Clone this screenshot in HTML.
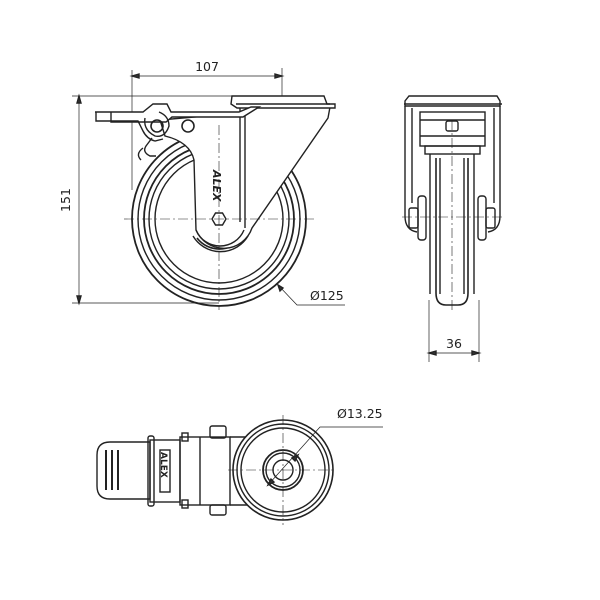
<!DOCTYPE html>
<html><head><meta charset="utf-8"><style>
html,body{margin:0;padding:0;background:#fff}
svg{display:block}
text{font-family:"DejaVu Sans","Liberation Sans",sans-serif;fill:#222}
</style></head><body>
<svg width="600" height="600" viewBox="0 0 600 600" xmlns="http://www.w3.org/2000/svg">
<g fill="none" stroke="#222" stroke-width="1.4">
<line x1="132" y1="70" x2="132" y2="190" stroke-width="0.7"/>
<line x1="282" y1="68" x2="282" y2="160" stroke-width="0.7"/>
<line x1="132" y1="76" x2="282" y2="76" stroke-width="0.7"/>
<path d="M132 76 l7 -2 v4z M282 76 l-7 -2 v4z" fill="#333"/>
<line x1="72" y1="96" x2="232" y2="96" stroke-width="0.7"/>
<line x1="72" y1="303" x2="219" y2="303" stroke-width="0.7"/>
<line x1="79" y1="96" x2="79" y2="303" stroke-width="0.7"/>
<path d="M79 96 l-2 7 h4z M79 303 l-2 -7 h4z" fill="#333"/>
<circle cx="219" cy="219" r="87" stroke-width="1.8"/>
<circle cx="219" cy="219" r="81"/>
<circle cx="219" cy="219" r="75" stroke-width="1.8"/>
<circle cx="219" cy="219" r="70"/>
<circle cx="219" cy="219" r="64"/>
<path d="M197 238 A28 28 0 0 0 245 232" stroke-width="1.6"/>
<path d="M193 236 A32 32 0 0 0 248 236"/>
<path d="M240 107 L330 107 L328 118 L252 228 A30 30 0 0 1 196 230 L194 160 Q190 142 165 136 L160 120 L240 113 Z" fill="#fff"/>
<line x1="240" y1="112" x2="240" y2="222"/>
<line x1="245" y1="112" x2="245" y2="228"/>
<path d="M196 230 A26 26 0 0 0 244 230"/>
<path d="M212 219 l3.5 -6 h7 l3.5 6 l-3.5 6 h-7z" stroke-width="1.4"/>
<path d="M232 96 h92 l3 8 h8 v4 h-98 l-6 -4 z" fill="#fff"/>
<line x1="236" y1="104" x2="330" y2="104"/>
<path d="M95 112 h48 l10 -8 h14 l4 8 h68 l12 -5 h8 l-16 10 h-71 l-6 5 h-55 v-10z" fill="#fff"/>
<path d="M96 112 v9 h42 l5 10 q4 8 12 10 l8 -2" />
<path d="M145 118 q-2 12 10 18 q10 2 14 -10 q0 -10 -10 -14"/>
<circle cx="157" cy="126" r="6" stroke-width="1.6"/>
<circle cx="188" cy="126" r="6" stroke-width="1.6"/>
<path d="M152 138 l-6 8 q-4 6 4 10 l6 0"/>
<path d="M143 148 q-8 6 -2 12"/>
<text x="213" y="170" font-size="11" transform="rotate(90 213 170)" stroke="none" fill="#333" font-weight="bold" font-style="italic">ALEX</text>
<g stroke-width="0.6" stroke-dasharray="10 3 2 3">
<line x1="124" y1="219" x2="316" y2="219"/>
<line x1="219" y1="125" x2="219" y2="310"/>
</g>
<path d="M278 285 L297 305 L345 305" stroke-width="0.7"/>
<path d="M278 285 l2 6 l3 -3z" fill="#333"/>

<path d="M409 96 h88 l3 5 v5 h-95 v-5z" fill="#fff"/>
<line x1="404" y1="104" x2="502" y2="104"/>
<path d="M405 106 v110 q0 14 12 16 M500 106 v110 q0 14 -12 16"/>
<path d="M412 108 v95 M494 108 v95"/>
<rect x="420" y="112" width="65" height="34"/>
<line x1="420" y1="120" x2="485" y2="120"/>
<line x1="420" y1="136" x2="485" y2="136"/>
<rect x="446" y="121" width="12" height="10" rx="2"/>
<rect x="425" y="146" width="55" height="8"/>
<path d="M436 158 v135 q0 12 10 12 h12 q10 0 10 -12 v-135" stroke-width="1.6"/>
<line x1="440" y1="158" x2="440" y2="294"/>
<line x1="464" y1="158" x2="464" y2="294"/>
<path d="M430 154 v140 M474 154 v140"/>
<rect x="418" y="196" width="8" height="44" rx="3"/>
<rect x="478" y="196" width="8" height="44" rx="3"/>
<rect x="409" y="208" width="9" height="20" rx="2"/>
<rect x="486" y="208" width="9" height="20" rx="2"/>
<g stroke-width="0.6" stroke-dasharray="10 3 2 3">
<line x1="402" y1="217" x2="505" y2="217"/>
<line x1="452" y1="120" x2="452" y2="310"/>
</g>
<line x1="429" y1="300" x2="429" y2="362" stroke-width="0.7"/>
<line x1="479" y1="300" x2="479" y2="362" stroke-width="0.7"/>
<line x1="429" y1="353" x2="479" y2="353" stroke-width="0.7"/>
<path d="M429 353 l7 -2 v4z M479 353 l-7 -2 v4z" fill="#333"/>

<path d="M150 442 h-40 q-13 0 -13 13 v31 q0 13 13 13 h40z" fill="#fff"/>
<g stroke-width="2"><line x1="106" y1="450" x2="106" y2="490"/><line x1="112" y1="450" x2="112" y2="490"/><line x1="118" y1="450" x2="118" y2="490"/></g>
<rect x="150" y="440" width="30" height="62"/>
<rect x="148" y="436" width="6" height="70" rx="2"/>
<rect x="180" y="437" width="50" height="68"/>
<rect x="182" y="433" width="6" height="8"/><rect x="182" y="500" width="6" height="8"/>
<rect x="210" y="426" width="16" height="12" rx="2"/>
<rect x="210" y="505" width="16" height="10" rx="2"/>
<rect x="160" y="450" width="10" height="42"/>
<text x="161" y="452" font-size="9" transform="rotate(90 161 452)" stroke="none" fill="#333" font-weight="bold">ALEX</text>
<line x1="200" y1="437" x2="200" y2="505"/>
<path d="M230 437 h25 M230 505 h25"/>
<circle cx="283" cy="470" r="50" fill="#fff" stroke-width="1.6"/>
<circle cx="283" cy="470" r="46"/>
<circle cx="283" cy="470" r="42"/>
<circle cx="283" cy="470" r="20" stroke-width="1.8"/>
<circle cx="283" cy="470" r="17"/>
<circle cx="283" cy="470" r="10"/>
<g stroke-width="0.6" stroke-dasharray="10 3 2 3">
<line x1="228" y1="470" x2="335" y2="470"/>
<line x1="283" y1="415" x2="283" y2="525"/>
</g>
<path d="M268 485 L320 427 L383 427" stroke-width="0.7"/>
<path d="M268 485 l6 -3 l-3 -3z M298 455 l-6 3 l3 3z" fill="#333"/>
</g>
<g stroke="none" font-size="12.5">
<text x="207" y="71" text-anchor="middle">107</text>
<text x="70" y="200" text-anchor="middle" transform="rotate(-90 70 200)">151</text>
<text x="310" y="300">Ø125</text>
<text x="454" y="348" text-anchor="middle">36</text>
<text x="337" y="418">Ø13.25</text>
</g>
</svg>
</body></html>
